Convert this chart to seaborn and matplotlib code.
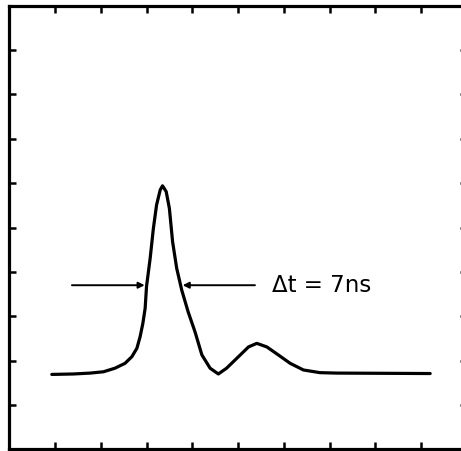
import matplotlib
matplotlib.use("Agg")
import matplotlib.pyplot as plt
import seaborn as sns

# pulse shape (time and signal in grid units)
time = [0.93, 1.40, 1.77, 2.06, 2.31, 2.53, 2.68, 2.79, 2.86, 2.92, 2.97, 3.00,
        3.08, 3.15, 3.22, 3.30, 3.35, 3.43, 3.50, 3.57, 3.66, 3.77, 3.91, 4.06,
        4.21, 4.39, 4.57, 4.75, 5.01, 5.23, 5.41, 5.63, 5.88, 6.14, 6.43, 6.79,
        7.16, 9.20]
signal = [1.69, 1.70, 1.72, 1.75, 1.83, 1.94, 2.09, 2.28, 2.54, 2.84, 3.18, 3.67,
          4.31, 4.98, 5.51, 5.85, 5.94, 5.81, 5.43, 4.68, 4.08, 3.59, 3.10, 2.65,
          2.13, 1.83, 1.70, 1.83, 2.09, 2.31, 2.39, 2.31, 2.13, 1.94, 1.79, 1.73,
          1.72, 1.71]

# half-width marker
fwhm_level = 3.70
fwhm_left = [1.37, 2.96]
fwhm_right = [5.37, 3.79]
fwhm_label = "Δt = 7ns"
tick_pos = list(range(1, 10))

sns.set_style("white")
fig = plt.figure(figsize=(4.61, 4.51), dpi=100)
ax = fig.add_axes([0.0201, 0.0035, 0.9924, 0.984])

sns.lineplot(x=time, y=signal, color="black", lw=2.3, ax=ax)
ax.lines[0].set_solid_joinstyle("round")
ax.lines[0].set_solid_capstyle("round")

arrow = dict(arrowstyle="-|>", lw=1.4, color="black", mutation_scale=9,
             shrinkA=0, shrinkB=0)
ax.annotate("", xy=(fwhm_left[1], fwhm_level), xytext=(fwhm_left[0], fwhm_level),
            arrowprops=arrow)
ax.annotate("", xy=(fwhm_right[1], fwhm_level), xytext=(fwhm_right[0], fwhm_level),
            arrowprops=arrow)
ax.text(5.74, fwhm_level, fwhm_label, fontsize=16.5, va="center", ha="left",
        color="black")

ax.set_xlim(0, 10)
ax.set_ylim(0, 10)
ax.set_xticks(tick_pos)
ax.set_yticks(tick_pos)
ax.tick_params(direction="in", top=True, right=True, bottom=True, left=True,
               length=5, width=1.8, labelbottom=False, labelleft=False,
               color="black")
for s in ax.spines.values():
    s.set_visible(True)
    s.set_linewidth(2.3)
    s.set_color("black")
ax.set_xlabel("")
ax.set_ylabel("")

fig.savefig("out.png", dpi=100, facecolor="white")
